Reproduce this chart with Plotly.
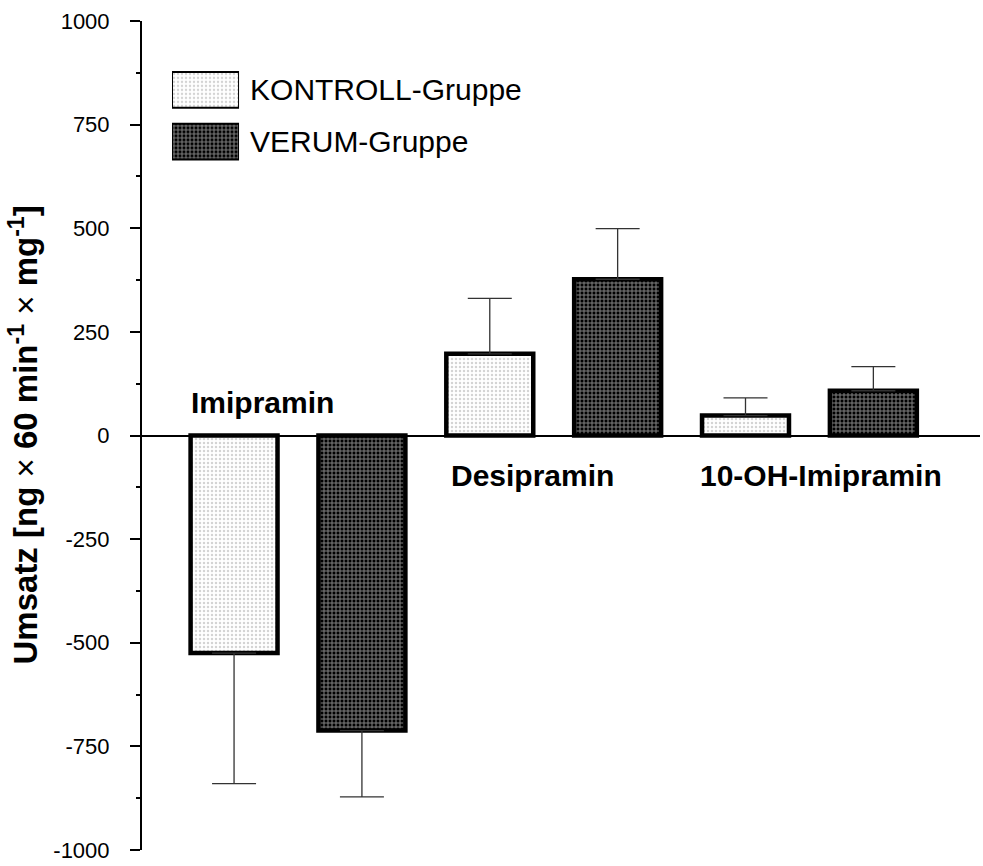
import plotly.graph_objects as go

# ---- data ----
categories = ["Imipramin", "Desipramin", "10-OH-Imipramin"]
groups = ["KONTROLL-Gruppe", "VERUM-Gruppe"]
kontroll_mean = [-525, 197, 48]
kontroll_err = [315, 134, 43]
verum_mean = [-712, 377, 108]
verum_err = [160, 122, 58]
y_ticks = [-1000, -750, -500, -250, 0, 250, 500, 750, 1000]
y_ticktext = ["-1000", "-750", "-500", "-250", "0", "250", "500", "750", "1000"]
y_minor = [-875, -625, -375, -125, 125, 375, 625, 875]

FONT = "Liberation Sans, Arial, sans-serif"

pat_k = dict(shape=".", fgcolor="#a8a8a8", bgcolor="white", size=4, solidity=0.3)
pat_v = dict(shape="+", fgcolor="white", bgcolor="black", size=4, solidity=0.45)


def one_sided(means, errs):
    up = [e if m >= 0 else 0 for m, e in zip(means, errs)]
    down = [e if m < 0 else 0 for m, e in zip(means, errs)]
    return up, down


fig = go.Figure()
for name, means, errs, pat in [
    (groups[0], kontroll_mean, kontroll_err, pat_k),
    (groups[1], verum_mean, verum_err, pat_v),
]:
    up, down = one_sided(means, errs)
    fig.add_trace(go.Bar(
        x=categories, y=means, name=name,
        marker=dict(color="white", pattern=pat, line=dict(color="black", width=4.5)),
        error_y=dict(type="data", symmetric=False, array=up, arrayminus=down,
                     color="#333333", thickness=1.3, width=22),
        showlegend=False,
    ))

# legend swatches drawn as a small inset bar chart
for name, pat in [(groups[0], pat_k), (groups[1], pat_v)]:
    fig.add_trace(go.Bar(
        y=[name], x=[1], orientation="h", xaxis="x2", yaxis="y2", width=0.69,
        marker=dict(color="white", pattern=pat, line=dict(color="black", width=2)),
        showlegend=False, hoverinfo="skip",
    ))

# invisible trace to carry the minor-tick overlay axis
fig.add_trace(go.Scatter(x=[None], y=[None], yaxis="y3", showlegend=False, hoverinfo="skip"))

# category labels
label_pos = [(0, 79, -35), (1, -96, -21), (2, -96, 12)]
for cat, (ci, yv, xs) in zip(categories, label_pos):
    fig.add_annotation(x=categories[ci], y=yv, xshift=xs, text=f"<b>{cat}</b>",
                       showarrow=False, font=dict(family=FONT, size=30, color="black"),
                       xanchor="center", yanchor="middle")

# y-axis title
fig.add_annotation(
    xref="paper", yref="paper", x=-0.142, y=0.5, textangle=-90,
    text="<b>Umsatz [ng</b> \u00d7 <b>60 min<sup>-1</sup></b> \u00d7 <b>mg<sup>-1</sup>]</b>",
    showarrow=False, font=dict(family=FONT, size=33, color="black"),
    xanchor="center", yanchor="middle",
)

fig.update_layout(
    width=983, height=866,
    margin=dict(l=142, r=3, t=21, b=13),
    paper_bgcolor="white", plot_bgcolor="white",
    barmode="group", bargap=0.0, bargroupgap=0.32,
    font=dict(family=FONT, color="black"),
    xaxis=dict(range=[-0.61, 2.667], visible=False, showgrid=False, zeroline=False),
    yaxis=dict(
        range=[-1000, 1000], tickmode="array", tickvals=y_ticks, ticktext=y_ticktext,
        showgrid=False, showline=True, linecolor="black", linewidth=2,
        ticks="outside", ticklen=10, tickwidth=1.5, tickcolor="black",
        zeroline=True, zerolinecolor="black", zerolinewidth=1.5,
        tickfont=dict(family=FONT, size=22, color="black"),
        ticklabelstandoff=16,
    ),
    yaxis3=dict(
        range=[-1000, 1000], overlaying="y", anchor="x", side="left",
        tickmode="array", tickvals=y_minor, showticklabels=False,
        ticks="outside", ticklen=5, tickwidth=1.5, tickcolor="black",
        showgrid=False, zeroline=False, showline=False,
    ),
    xaxis2=dict(domain=[0.0358, 0.1158], range=[0, 1], visible=False, anchor="y2"),
    yaxis2=dict(domain=[0.8233, 0.9483], anchor="x2", side="right", autorange="reversed",
                showline=False, ticks="", showgrid=False, zeroline=False,
                tickfont=dict(family=FONT, size=30, color="black"), ticklabelstandoff=10),
)

fig.write_html("out.html")
